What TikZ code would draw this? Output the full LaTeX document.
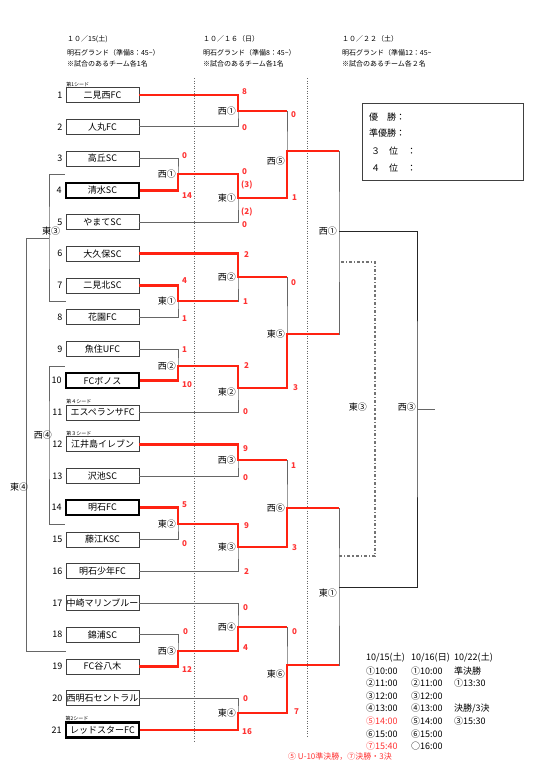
\documentclass[tikz,border=0pt]{standalone}
\usepackage{fontspec}
\setmainfont{Noto Sans CJK JP}
\usetikzlibrary{positioning}
\definecolor{winred}{RGB}{255,34,17}
\definecolor{scorered}{RGB}{255,51,51}

\begin{document}
\begin{tikzpicture}[x=1pt, y=-1pt,
    team/.style={draw=black!75, line width=0.8pt, minimum width=73pt, minimum height=15pt, inner sep=0pt, font=\fontsize{9}{9}\selectfont},
    boldteam/.style={team, draw=black, line width=2.2pt},
    num/.style={anchor=east, inner sep=0pt, font=\fontsize{9}{9}\selectfont},
    seed/.style={anchor=south west, inner sep=0.5pt, font=\fontsize{5}{5}\selectfont},
    loser/.style={draw=black!60, line width=1pt},
    winner/.style={draw=winred, line width=2.6pt},
    final/.style={draw=black!85, line width=0.9pt},
    third/.style={draw=black!55, line width=1.2pt, dash dot},
    sep/.style={draw=black!60, line width=0.5pt, dotted},
    mlabel/.style={anchor=east, inner sep=0pt, xshift=-2pt, font=\fontsize{9}{9}\selectfont},
    plain/.style={inner sep=0pt, font=\fontsize{9}{9}\selectfont},
    score/.style={anchor=west, inner sep=0pt, text=scorered, font=\fontsize{8}{8}\selectfont\bfseries},
    head/.style={anchor=west, inner sep=0pt, font=\fontsize{7}{7}\selectfont},
    sched/.style={anchor=west, inner sep=0pt, font=\fontsize{9}{9}\selectfont}]
    \useasboundingbox (0,0) rectangle (540,780);
    % 日付の見出し
    \foreach \c/\x/\d/\p/\m in {1/67/１０／15(土)/明石グランド（準備8：45\textasciitilde）/※試合のあるチーム各1名,
        2/203/１０／１６（日）/明石グランド（準備8：45\textasciitilde）/※試合のあるチーム各1名,
        3/342/１０／２２（土）/明石グランド（準備12：45\textasciitilde/※試合のあるチーム各２名}{
        \node[head] (d\c) at (\x,39) {\d};
        \node[head] (p\c) at (\x,53) {\p};
        \node[head] (m\c) at (\x,64) {\m};
    }
    % 日ごとの区切り
    \draw[sep] (194,78) -- (194,741);
    \draw[sep] (307,78) -- (307,737);
    % チーム
    \foreach \n/\name/\s in {1/二見西FC/team, 2/人丸FC/team, 3/高丘SC/team, 4/清水SC/boldteam,
        5/やまてSC/team, 6/大久保SC/team, 7/二見北SC/team, 8/花園FC/team, 9/魚住UFC/team,
        10/FCボノス/boldteam, 11/エスペランサFC/team, 12/江井島イレブン/team, 13/沢池SC/team,
        14/明石FC/boldteam, 15/藤江KSC/team, 16/明石少年FC/team, 17/中崎マリンブルー/team,
        18/錦浦SC/team, 19/FC谷八木/team, 20/西明石セントラル/team, 21/レッドスターFC/boldteam}{
        \node[\s] (t\n) at (102.5, {95+(\n-1)*31.75}) {\name};
        \node[num, left=3pt of t\n] (n\n) {\n};
    }
    \foreach \n/\s in {1/第1シード, 11/第４シード, 12/第３シード, 21/第2シード}
        \node[seed] (seed\n) at (t\n.north west) {\s};
    % 試合の分岐点
    \coordinate (w1a) at (178,174);
    \coordinate (e1a) at (178,301);
    \coordinate (w2a) at (178,366);
    \coordinate (e2a) at (178,524);
    \coordinate (w3a) at (178,651);
    \coordinate (e3a) at (49,238);
    \coordinate (w4a) at (49,435);
    \coordinate (e4a) at (26,238);
    \coordinate (w1b) at (238,111);
    \coordinate (e1b) at (238,198);
    \coordinate (w2b) at (238,277);
    \coordinate (e2b) at (238,388);
    \coordinate (w3b) at (238,460);
    \coordinate (e3b) at (238,547);
    \coordinate (w4b) at (238,627);
    \coordinate (e4b) at (238,713);
    \coordinate (w5b) at (287,151);
    \coordinate (e5b) at (287,334);
    \coordinate (w6b) at (287,508);
    \coordinate (e6b) at (287,665);
    \coordinate (w1c) at (339,231);
    \coordinate (e1c) at (339,587);
    \coordinate (e3c) at (375,409);
    \coordinate (w3c) at (417,409);
    \coordinate (fin) at (435,409);
    \coordinate (p1) at (341,262);
    \coordinate (p2) at (339,556);
    % 組み合わせの線
    \foreach \a/\j/\b in {t3.east/w1a/t4.east, t7.east/e1a/t8.east, t9.east/w2a/t10.east,
        t14.east/e2a/t15.east, t18.east/w3a/t19.east, t1.east/w1b/t2.east, w1a/e1b/t5.east,
        t6.east/w2b/e1a, w2a/e2b/t11.east, t12.east/w3b/t13.east, e2a/e3b/t16.east,
        t17.east/w4b/w3a, t20.east/e4b/t21.east, w1b/w5b/e1b, w2b/e5b/e2b, w3b/w6b/e3b,
        w4b/e6b/e4b, w5b/w1c/e5b, w6b/e1c/e6b}
        \draw[loser] (\a) -| (\j) |- (\b);
    \draw[loser] (t4.west |- w1a) -| (e3a) |- (t7.west |- e1a);
    \draw[loser] (t10.west |- w2a) -| (w4a) |- (t14.west |- e2a);
    \draw[loser] (e3a) -- (e4a) |- (t19.west |- w3a);
    \draw[final] (w1c) -| (w3c) |- (e1c);
    \draw[loser] (w3c) -- (fin);
    \draw[third] (p1) -| (e3c) |- (p2);
    % 勝ち上がり
    \draw[winner] (t1.east) -| (w1b) -- (w1b -| w5b);
    \draw[winner] (t4.east) -| (w1a) -| (e1b) -| (w5b) -- (w5b -| w1c);
    \draw[winner] (t6.east) -| (w2b) -- (w2b -| e5b);
    \draw[winner] (t7.east) -| (e1a) -- (e1a -| w2b);
    \draw[winner] (t10.east) -| (w2a) -| (e2b) -| (e5b) -- (e5b -| w1c);
    \draw[winner] (t12.east) -| (w3b) -- (w3b -| w6b);
    \draw[winner] (t14.east) -| (e2a) -| (e3b) -| (w6b) -- (w6b -| e1c);
    \draw[winner] (t19.east) -| (w3a) -| (w4b) -- (w4b -| e6b);
    \draw[winner] (t21.east) -| (e4b) -| (e6b) -- (e6b -| e1c);
    % 試合番号
    \foreach \j/\t in {w1a/西①, e1a/東①, w2a/西②, e2a/東②, w3a/西③, w1b/西①, e1b/東①,
        w2b/西②, w3b/西③, e3b/東③, w4b/西④, e4b/東④, e5b/東⑤, w6b/西⑥, w1c/西①}
        \node[mlabel] (l\j) at (\j) {\t};
    \node[mlabel, yshift=-4pt] (le2b) at (e2b) {東②};
    \node[mlabel, yshift=-10pt] (lw5b) at (w5b) {西⑤};
    \node[mlabel, yshift=-9pt] (le6b) at (e6b) {東⑥};
    \node[mlabel, yshift=-6pt] (le1c) at (e1c) {東①};
    \node[mlabel, xshift=-6pt, yshift=2pt] (le3c) at (e3c) {東③};
    \node[mlabel, xshift=1pt, yshift=2pt] (lw3c) at (w3c) {西③};
    \node[plain] (le3a) at (51,231) {東③};
    \node[plain] (lw4a) at (43,435) {西④};
    \node[plain] (le4a) at (19,487) {東④};
    % 得点
    \foreach \x/\y/\s [count=\i] in {182/156/0, 182/196/14, 182/281/4, 182/319/1, 182/350/1,
        182/385/10, 182/505/5, 182/544/0, 183/632/0, 182/670/12,
        242/92/8, 242/128/0, 242/172/0, 241/185/(3), 241/212/(2), 242/225/0, 244/255/2,
        243/302/1, 244/366/2, 243/412/0, 243/449/9, 243/478/0, 244/526/9, 244/572/2,
        243/608/0, 243/648/4, 243/699/0, 242/732/16,
        291/115/0, 292/198/1, 291/283/0, 293/388/3, 291/466/1, 292/548/3, 292/632/0, 294/712/7}
        \node[score] (sc\i) at (\x,\y) {\s};
    % 結果
    \node[draw=black!75, line width=1pt, minimum width=161pt, minimum height=77pt, inner sep=0pt] (res) at (442.5,141.5) {};
    \foreach \i/\x/\y/\t in {1/369/117/優　勝：, 2/369/133/準優勝：, 3/371/151/３　位　：, 4/371/168/４　位　：}
        \node[sched] (r\i) at (\x,\y) {\t};
    % 時間
    \node[sched] (s1-0) at (366,658) {10/15(土)};
    \node[sched] (s2-0) at (411,658) {10/16(日)};
    \node[sched] (s3-0) at (454,658) {10/22(土)};
    \foreach \r/\a/\b in {1/①10:00/①10:00, 2/②11:00/②11:00, 3/③12:00/③12:00, 4/④13:00/④13:00,
        5/\textcolor{scorered}{⑤14:00}/⑤14:00, 6/⑥15:00/⑥15:00, 7/\textcolor{scorered}{⑦15:40}/○16:00}{
        \node[sched] (s1-\r) at (366,{658+12.6*\r}) {\a};
        \node[sched] (s2-\r) at (411,{658+12.6*\r}) {\b};
    }
    \node[sched] (s3-1) at (454,670.6) {準決勝};
    \node[sched] (s3-2) at (454,683.2) {①13:30};
    \node[sched] (s3-4) at (454,708.4) {決勝/3決};
    \node[sched] (s3-5) at (454,721) {③15:30};
    \node[anchor=west, inner sep=0pt, text=scorered, font=\fontsize{8}{8}\selectfont] (note) at (288,757) {⑤ U-10準決勝，⑦決勝・3決};
\end{tikzpicture}
\end{document}
